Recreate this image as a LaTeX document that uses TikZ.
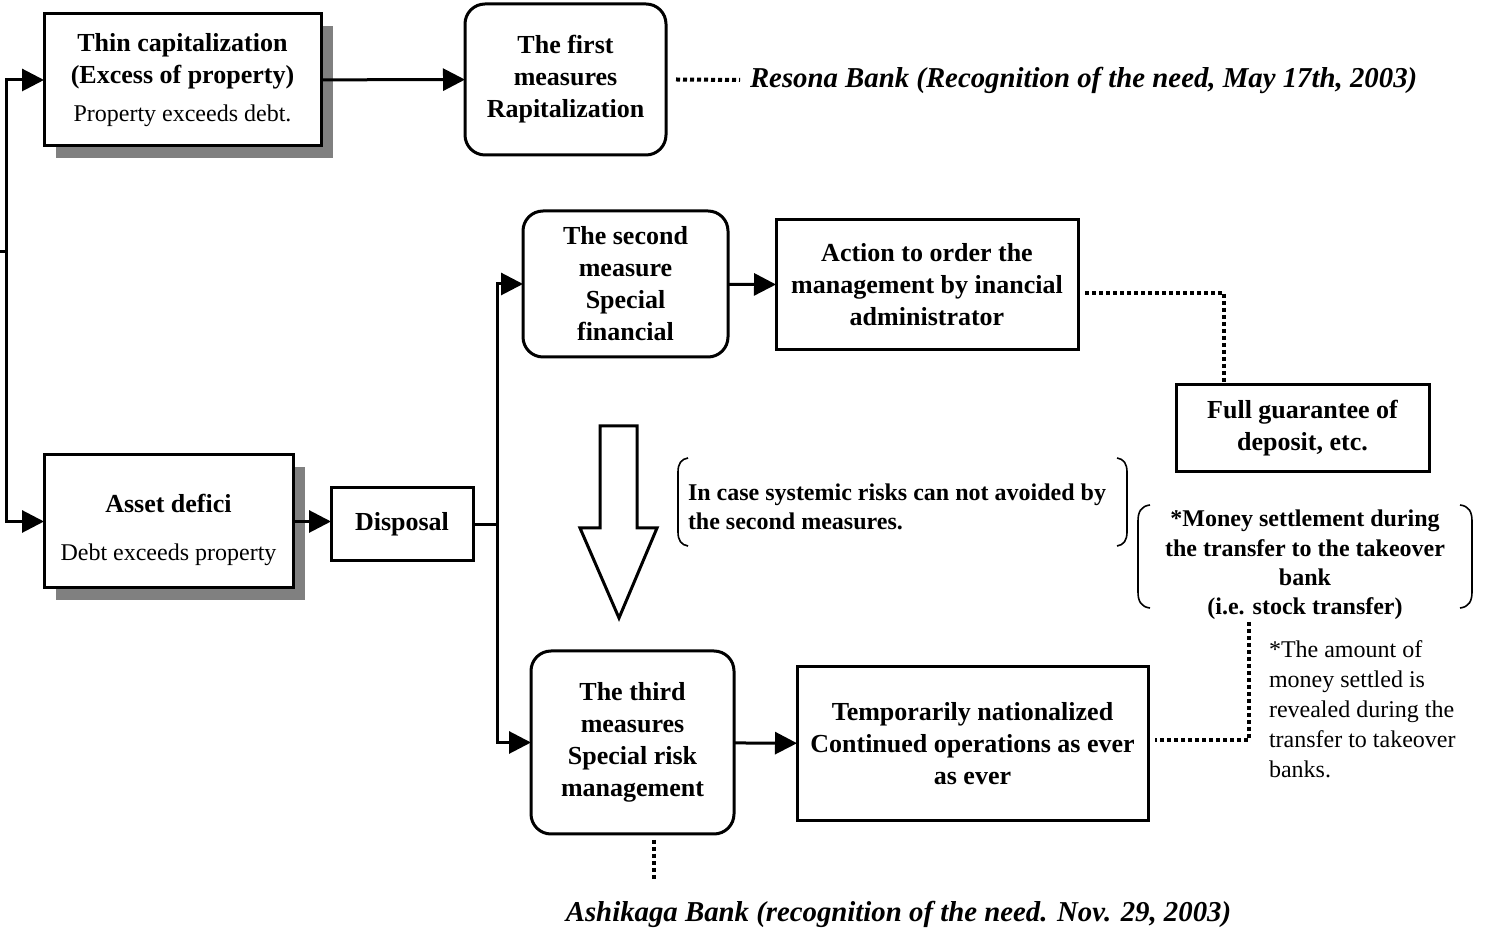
\documentclass[tikz,border=0pt]{standalone}
\usepackage{fontspec}
\setmainfont{Liberation Serif}
\usetikzlibrary{arrows.meta,shadows}
\begin{document}
\begin{tikzpicture}[x=0.5pt,y=-0.5pt,
  every node/.style={inner sep=0pt, outer sep=0pt},
  box/.style={draw, line width=1.5pt, fill=white, align=center,
    font=\fontsize{13pt}{16pt}\selectfont\bfseries},
  rbox/.style={box, rounded corners=10pt},
  shadowed/.style={drop shadow={shadow xshift=6pt, shadow yshift=-6pt,
    fill=black!50, opacity=1}},
  arr/.style={line width=1.5pt, -{Triangle[length=11pt,width=11pt]}},
  link/.style={line width=1.5pt},
  dots/.style={line width=2pt, dash pattern=on 2pt off 1.5pt},
  note/.style={align=left, font=\fontsize{12pt}{15pt}\selectfont},
  cond/.style={font=\fontsize{12pt}{14.6pt}\selectfont\bfseries},
  hint/.style={font=\fontsize{14.4pt}{17pt}\selectfont\bfseries\itshape},
  paren/.style={line width=0.8pt}
]
\useasboundingbox (0,0) rectangle (1489,929);

% left branch
\coordinate (stub) at (0,252);
\coordinate (trunk) at (6,252);

% state boxes with drop shadows
\node[box, shadowed, minimum width=138.5pt, minimum height=66pt] (thin) at (182.5,80)
  {Thin capitalization\\(Excess of property)\\[3pt]{\mdseries\fontsize{12pt}{15pt}\selectfont Property exceeds debt.}};
\node[box, shadowed, minimum width=124.5pt, minimum height=66.5pt] (asset) at (168.5,521.5) {};
\node[align=center, font=\fontsize{13pt}{16pt}\selectfont\bfseries] (assettext) at (168.5,530)
  {Asset defici\\[8pt]{\mdseries\fontsize{12pt}{15pt}\selectfont Debt exceeds property}};

% measures
\node[rbox, minimum width=100.5pt, minimum height=75.5pt] (first) at (565.5,79.5)
  {The first\\measures\\Rapitalization};
\node[box, minimum width=71pt, minimum height=36.5pt] (disposal) at (402,524.5) {Disposal};
\node[rbox, minimum width=102.5pt, minimum height=73pt] (second) at (625.5,284)
  {The second\\measure\\Special\\financial};
\node[box, minimum width=151pt, minimum height=65pt] (action) at (927,285)
  {Action to order the\\management by inancial\\administrator};
\node[box, minimum width=126.5pt, minimum height=43.5pt] (full) at (1302.5,428.5)
  {Full guarantee of\\deposit, etc.};
\node[rbox, minimum width=101.5pt, minimum height=91.5pt] (third) at (632.5,742.5)
  {The third\\measures\\Special risk\\management};
\node[box, minimum width=175.5pt, minimum height=77pt] (temp) at (972.5,744)
  {Temporarily nationalized\\Continued operations as ever\\as ever};

% side remarks
\node[hint, anchor=west] (resona) at (750,80)
  {Resona Bank (Recognition of the need, May 17th, 2003)};
\node[hint] (ashikaga) at (898.5,914)
  {Ashikaga Bank (recognition of the need. Nov. 29, 2003)};
\node[cond, align=left, anchor=west] (risk) at (688,507)
  {In case systemic risks can not avoided by\\the second measures.};
\node[cond, align=center] (money) at (1305,565)
  {*Money settlement during\\the transfer to the takeover\\bank\\(i.e. stock transfer)};
\node[note, anchor=north west] (amount) at (1269,641)
  {*The amount of\\money settled is\\revealed during the\\transfer to takeover\\banks.};

% brackets round the remarks
\draw[paren] (688,458) .. controls (681,459) and (678,464) .. (678,472) -- (678,532)
  .. controls (678,540) and (681,545) .. (688,546);
\draw[paren] (1117,458) .. controls (1124,459) and (1127,464) .. (1127,472) -- (1127,532)
  .. controls (1127,540) and (1124,545) .. (1117,546);
\draw[paren] (1150,505) .. controls (1141,506) and (1138,512) .. (1138,521) -- (1138,592)
  .. controls (1138,601) and (1141,607) .. (1150,608);
\draw[paren] (1460,505) .. controls (1469,506) and (1472,512) .. (1472,521) -- (1472,592)
  .. controls (1472,601) and (1469,607) .. (1460,608);

% hollow escalation arrow
\draw[line width=1.5pt, fill=white, line join=miter]
  (600,426) -- (637,426) -- (637,528) -- (657,528) -- (619,618) -- (580,528) -- (600,528) -- cycle;

% connectors
\draw[link] (stub) -- (trunk);
\draw[arr] (trunk) |- (thin.west);
\draw[arr] (trunk) |- (asset.west);
\draw[arr] (thin) -- (first);
\draw[arr] (asset.east) -- (asset.east -| disposal.west);
\coordinate (split) at (497,522);
\draw[link] (disposal.east) -- (disposal.east -| split);
\draw[link] (disposal.east -| split) -- (split);
\draw[arr] (split) |- (second.west);
\draw[arr] (split) |- (third.west);
\draw[arr] (second) -- (action);
\draw[arr] (third) -- (temp);

% dotted references
\draw[dots] ([shift={(10,0)}]first.east) -- ([shift={(-10,0)}]resona.west);
\draw[dots] ([shift={(7,8)}]action.east) -| ([shift={(-78.5,-2)}]full.north);
\coordinate (moneyfoot) at (1249,622);
\draw[dots] (moneyfoot) |- ([shift={(7,-4)}]temp.east);
\draw[dots] ([shift={(21.5,6)}]third.south) -- ++(0,42);
\end{tikzpicture}
\end{document}
